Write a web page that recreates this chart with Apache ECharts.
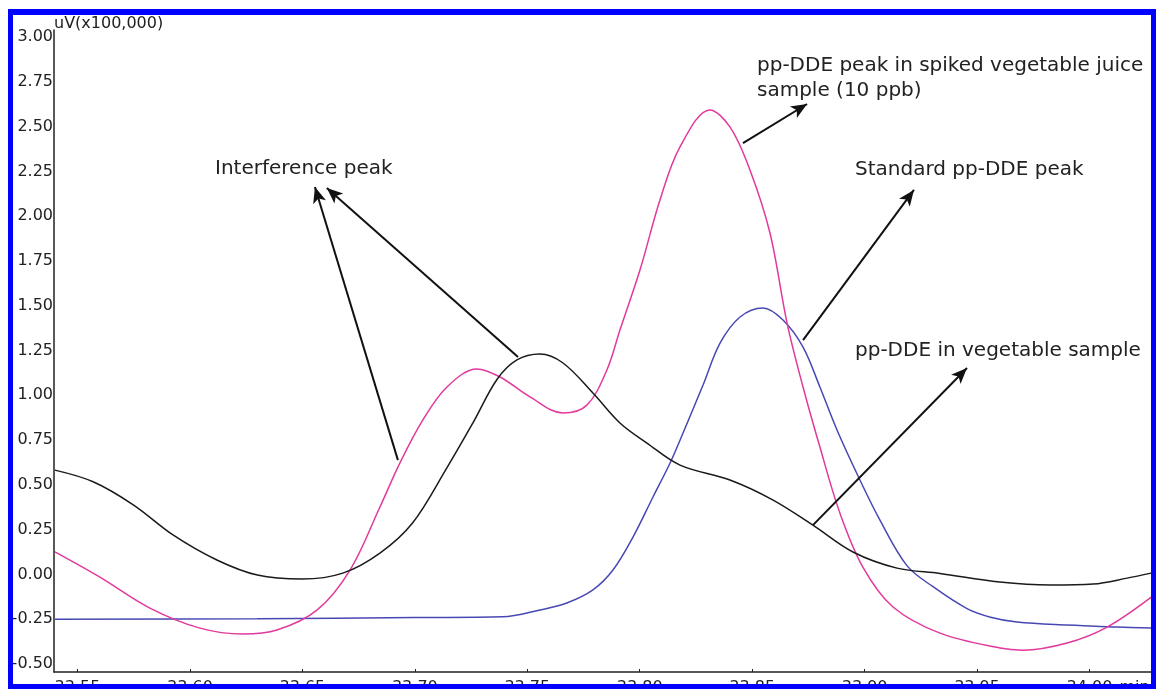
<!DOCTYPE html>
<html>
<head>
<meta charset="utf-8">
<script src="https://cdn.jsdelivr.net/npm/echarts@6/dist/echarts.min.js"></script>
<style>
html,body{margin:0;padding:0;background:#fff;}
#c{width:1156px;height:689px;}
</style>
</head>
<body>
<div id="c"></div>
<script>
// Retention time (min) and signal (uV x100,000) for each trace
const blackT = [33.540,33.557,33.575,33.5925,33.612,33.630,33.650,33.668,33.6845,33.699,33.714,33.726,33.7366,33.7454,33.7556,33.7659,33.7792,33.7912,33.8032,33.8179,33.8401,33.8593,33.877,33.8948,33.9144,33.9335,33.960,33.9825,34.0016,34.0167,34.0274];
const blackV = [0.583,0.518,0.388,0.221,0.081,-0.003,-0.025,0.008,0.120,0.288,0.590,0.850,1.090,1.198,1.231,1.181,1.013,0.846,0.734,0.611,0.528,0.416,0.276,0.126,0.036,0.006,-0.042,-0.059,-0.053,-0.020,0.008];

const pinkT = [33.540,33.560,33.5822,33.6045,33.6236,33.6387,33.6565,33.6712,33.6845,33.6934,33.7036,33.7143,33.7276,33.7379,33.7512,33.7659,33.7765,33.7854,33.7912,33.8001,33.809,33.8179,33.8312,33.8401,33.849,33.8579,33.8655,33.8726,33.8801,33.889,33.8992,33.9126,33.9335,33.9602,33.9704,33.990,34.0078,34.0274];
const pinkV = [0.127,-0.014,-0.187,-0.299,-0.332,-0.310,-0.199,0.025,0.377,0.623,0.863,1.047,1.148,1.103,0.992,0.902,0.946,1.142,1.365,1.700,2.091,2.387,2.594,2.499,2.259,1.907,1.404,1.047,0.712,0.343,0.042,-0.181,-0.327,-0.410,-0.422,-0.382,-0.293,-0.126];

const blueT = [33.540,33.630,33.700,33.739,33.7556,33.7676,33.7792,33.7881,33.797,33.8059,33.8135,33.8179,33.8282,33.8357,33.8446,33.8548,33.8637,33.8726,33.8801,33.8877,33.8979,33.9068,33.9188,33.9304,33.9455,33.956,33.9677,33.990,34.0122,34.0274];
const blueV = [-0.250,-0.247,-0.240,-0.236,-0.198,-0.159,-0.086,0.025,0.209,0.433,0.623,0.750,1.060,1.292,1.438,1.488,1.421,1.270,1.047,0.807,0.528,0.304,0.050,-0.068,-0.190,-0.238,-0.265,-0.282,-0.293,-0.299];

// Axis ranges / ticks
const plotXMin = 33.5396, plotXMax = 34.0273;
const plotYMin = -0.544, plotYMax = 3.04;
const xTickMin = 33.55, xTickMax = 34.00, xTickStep = 0.05;
const yTickMin = -0.50, yTickMax = 3.00, yTickStep = 0.25;
const yUnit = 'uV(x100,000)';
const xUnit = 'min';

// Annotation arrows [tailT, tailV, tipT, tipV]
const arrows = [
  [33.6925, 0.639, 33.6556, 2.164],
  [33.7459, 1.214, 33.6609, 2.158],
  [33.8459, 2.409, 33.8744, 2.627],
  [33.8726, 1.309, 33.9219, 2.147],
  [33.8770, 0.276, 33.9455, 1.153]
];

const FONT = 'DejaVu Sans';
const zip = (t, v) => t.map((x, i) => [x, v[i]]);

const chart = echarts.init(document.getElementById('c'), null, {renderer: 'canvas'});

const border = '#0000ff';
const txt = (text, x, y) => ({
  type: 'text', left: x, top: y - 9, z: 50,
  style: {text: text, fill: '#222', font: '20px "' + FONT + '"'}
});

chart.setOption({
  animation: false,
  backgroundColor: '#ffffff',
  textStyle: {fontFamily: FONT},
  grid: [
    {left: 54, right: 5, top: 30, bottom: 17, containLabel: false, outerBoundsMode: 'none'},
    {left: 54, right: 5, top: 37, bottom: 25, containLabel: false, outerBoundsMode: 'none'},
    {left: 77.5, right: 66.5, top: 30, bottom: 17, containLabel: false, outerBoundsMode: 'none'}
  ],
  xAxis: [
    {type: 'value', gridIndex: 0, min: plotXMin, max: plotXMax,
     axisLine: {show: true, onZero: false, lineStyle: {color: '#222', width: 1.5}},
     axisTick: {show: false}, axisLabel: {show: false}, splitLine: {show: false}},
    {type: 'value', gridIndex: 1, min: 0, max: 1, show: false},
    {type: 'value', gridIndex: 2, min: xTickMin, max: xTickMax, interval: xTickStep,
     name: xUnit, nameLocation: 'end', nameGap: 30,
     nameTextStyle: {color: '#222', fontSize: 16, fontFamily: FONT, align: 'left', verticalAlign: 'top', padding: [8, 0, 0, 0]},
     axisLine: {show: false, onZero: false},
     axisTick: {show: true, inside: true, length: 3, lineStyle: {color: '#222'}},
     axisLabel: {show: true, color: '#222', fontSize: 16, fontFamily: FONT, margin: 8,
       formatter: v => v.toFixed(2)},
     splitLine: {show: false}}
  ],
  yAxis: [
    {type: 'value', gridIndex: 0, min: plotYMin, max: plotYMax,
     name: yUnit, nameLocation: 'end', nameGap: -2,
     nameTextStyle: {color: '#222', fontSize: 16, fontFamily: FONT, align: 'left', verticalAlign: 'bottom'},
     axisLine: {show: true, onZero: false, lineStyle: {color: '#222', width: 1.5}},
     axisTick: {show: false}, axisLabel: {show: false}, splitLine: {show: false}},
    {type: 'value', gridIndex: 1, min: yTickMin, max: yTickMax, interval: yTickStep,
     axisLine: {show: false}, axisTick: {show: false},
     axisLabel: {show: true, color: '#222', fontSize: 16, fontFamily: FONT, margin: 1,
       formatter: v => v.toFixed(2)},
     splitLine: {show: false}},
    {type: 'value', gridIndex: 2, min: 0, max: 1, show: false}
  ],
  series: [
    {name: 'Standard pp-DDE', type: 'line', xAxisIndex: 0, yAxisIndex: 0,
     data: zip(blueT, blueV), showSymbol: false, smooth: 0.35,
     lineStyle: {color: '#4848b4', width: 1.5}, silent: true},
    {name: 'Spiked vegetable juice', type: 'line', xAxisIndex: 0, yAxisIndex: 0,
     data: zip(pinkT, pinkV), showSymbol: false, smooth: 0.35,
     lineStyle: {color: '#e2399c', width: 1.5}, silent: true},
    {name: 'Vegetable sample', type: 'line', xAxisIndex: 0, yAxisIndex: 0,
     data: zip(blackT, blackV), showSymbol: false, smooth: 0.35,
     lineStyle: {color: '#1a1a1a', width: 1.5}, silent: true},
    {name: 'arrows', type: 'line', xAxisIndex: 0, yAxisIndex: 0, data: [], silent: true,
     markLine: {
       silent: true, animation: false,
       symbol: ['none', 'arrow'], symbolSize: [10, 16],
       label: {show: false},
       lineStyle: {type: 'solid', color: '#111', width: 2},
       emphasis: {disabled: true},
       data: arrows.map(a => [{coord: [a[0], a[1]]}, {coord: [a[2], a[3]]}])
     }}
  ],
  graphic: [
    txt('Interference peak', 215, 168),
    txt('pp-DDE peak in spiked vegetable juice', 757, 65),
    txt('sample (10 ppb)', 757, 90),
    txt('Standard pp-DDE peak', 855, 169),
    txt('pp-DDE in vegetable sample', 855, 350),
    {type: 'rect', z: 100, shape: {x: 8, y: 9, width: 1148, height: 6}, style: {fill: border}},
    {type: 'rect', z: 100, shape: {x: 8, y: 9, width: 5, height: 680}, style: {fill: border}},
    {type: 'rect', z: 100, shape: {x: 1151, y: 9, width: 5, height: 680}, style: {fill: border}},
    {type: 'rect', z: 100, shape: {x: 8, y: 684, width: 1148, height: 5}, style: {fill: border}}
  ]
});
</script>
</body>
</html>
